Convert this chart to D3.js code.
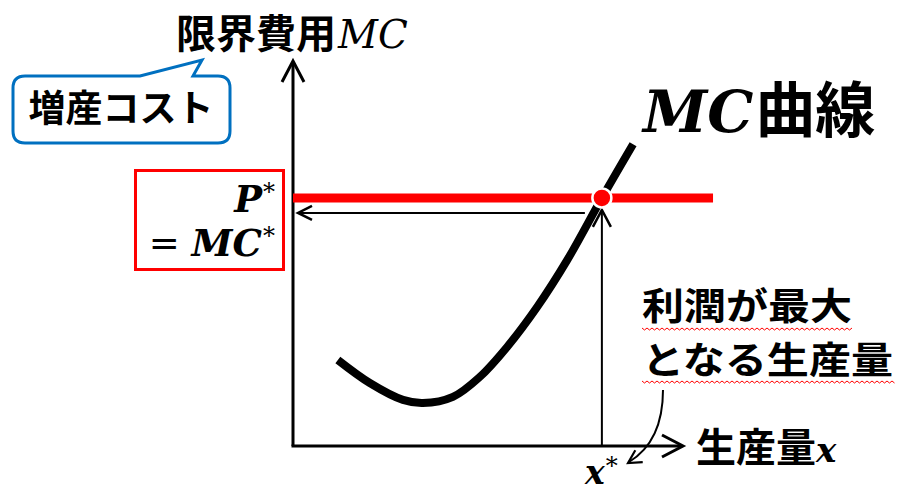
<!DOCTYPE html>
<html><head><meta charset="utf-8">
<script src="https://cdn.jsdelivr.net/npm/d3@7"></script>
<style>
html,body{margin:0;padding:0;background:#fff;}
svg{display:block;}
</style></head>
<body>
<script>
// ---- data (diagram units: quantity 0..100, cost 0..100) ----
const mcQuantity = [11.5, 19.7, 28.2, 33.3, 41.0, 47.9, 54.9, 62.6, 70.3, 79.2, 87.2];
const mcCost     = [22.4, 16.4, 12.0, 11.2, 12.8, 18.0, 25.8, 36.2, 48.4, 64.6, 78.6];
const optimumQuantity = [79.2];   // x*
const optimumPrice    = [64.6];   // P* = MC*
const priceLineExtent = [0, 107.7];
const axisLabels = ["限界費用", "生産量"];
const curveLabel = ["曲線"];
const noteLines = ["利潤が最大", "となる生産量"];
const calloutText = ["増産コスト"];

const W = 899, H = 492;
const svg = d3.select("body").append("svg").attr("width", W).attr("height", H);
svg.append("rect").attr("width", W).attr("height", H).attr("fill", "#fff");

const x = d3.scaleLinear().domain([0, 100]).range([293, 683]);
const y = d3.scaleLinear().domain([0, 100]).range([446, 62]);

const CJK = "'Noto Sans CJK JP', sans-serif";
const MATH = "'DejaVu Serif', 'Liberation Serif', serif";
const RED = "#ff0000", BLUE = "#0070c0";

function chevron(g, tx, ty, angleDeg, len, half, sw) {
  const a = angleDeg * Math.PI / 180;
  const ux = Math.cos(a), uy = Math.sin(a);
  const px = -uy, py = ux;
  const bx = tx - ux * len, by = ty - uy * len;
  g.append("path")
    .attr("d", `M${bx + px*half},${by + py*half}L${tx},${ty}L${bx - px*half},${by - py*half}`)
    .attr("fill", "none").attr("stroke", "#000").attr("stroke-width", sw)
    .attr("stroke-linejoin", "miter").attr("stroke-linecap", "butt");
}

// ---- axes ----
const axes = svg.append("g");
axes.append("path")
  .attr("d", `M${x(0)},${y(0)}L${x(0)},${y(100)+1}`)
  .attr("stroke", "#000").attr("stroke-width", 3).attr("fill", "none");
axes.append("path")
  .attr("d", `M${x(0)-1.5},${y(0)}L${x(100)-1},${y(0)}`)
  .attr("stroke", "#000").attr("stroke-width", 3).attr("fill", "none");
chevron(axes, x(0), y(100)-1, -90, 21, 11, 3);
chevron(axes, x(100), y(0), 0, 21, 11, 3);

// ---- price line P* ----
svg.append("line")
  .attr("x1", x(priceLineExtent[0])).attr("x2", x(priceLineExtent[1]))
  .attr("y1", y(optimumPrice[0])).attr("y2", y(optimumPrice[0]))
  .attr("stroke", RED).attr("stroke-width", 9);

// ---- guide arrows ----
const guides = svg.append("g");
guides.append("line")
  .attr("x1", x(optimumQuantity[0])).attr("x2", x(optimumQuantity[0]))
  .attr("y1", y(0)).attr("y2", y(optimumPrice[0]) + 13)
  .attr("stroke", "#000").attr("stroke-width", 2);
chevron(guides, x(optimumQuantity[0]), y(optimumPrice[0]) + 12, -90, 17, 9, 2.5);
guides.append("line")
  .attr("x1", x(optimumQuantity[0]) - 17).attr("x2", x(0) + 6)
  .attr("y1", y(optimumPrice[0]) + 15).attr("y2", y(optimumPrice[0]) + 15)
  .attr("stroke", "#000").attr("stroke-width", 2);
chevron(guides, x(0) + 5, y(optimumPrice[0]) + 15, 180, 14, 7, 2.5);

// ---- MC curve ----
const pts = mcQuantity.map((q, i) => [q, mcCost[i]]);
svg.append("path")
  .datum(pts)
  .attr("d", d3.line().x(d => x(d[0])).y(d => y(d[1])).curve(d3.curveCatmullRom.alpha(0.5)))
  .attr("fill", "none").attr("stroke", "#000").attr("stroke-width", 8);

// ---- equilibrium dot ----
svg.append("circle")
  .attr("cx", x(optimumQuantity[0])).attr("cy", y(optimumPrice[0])).attr("r", 9.5)
  .attr("fill", RED).attr("stroke", "#fff").attr("stroke-width", 2.5);

// ---- title label ----
const t = svg.append("text").attr("x", 176).attr("y", 48);
t.append("tspan").attr("font-family", CJK).attr("font-weight", "bold").attr("font-size", 40).text(axisLabels[0]);
t.append("tspan").attr("font-family", MATH).attr("font-style", "italic").attr("font-size", 39).attr("dx", 2).text("MC");

// ---- callout ----
svg.append("path")
  .attr("d", "M25,76L140,76L202,60L193,76L218,76Q230,76 230,88L230,131Q230,143 218,143L25,143Q13,143 13,131L13,88Q13,76 25,76Z")
  .attr("fill", "#fff").attr("stroke", BLUE).attr("stroke-width", 3);
svg.append("text").attr("x", 121).attr("y", 122).attr("text-anchor", "middle")
  .attr("font-family", CJK).attr("font-weight", "bold").attr("font-size", 37)
  .text(calloutText[0]);

// ---- red box P* = MC* ----
svg.append("rect").attr("x", 135.5).attr("y", 170.5).attr("width", 148).attr("height", 99)
  .attr("fill", "none").attr("stroke", RED).attr("stroke-width", 3);
const p1 = svg.append("text").attr("x", 275).attr("y", 212).attr("text-anchor", "end")
  .attr("font-family", MATH).attr("font-weight", "bold").attr("font-style", "italic").attr("font-size", 37);
p1.append("tspan").text("P");
p1.append("tspan").attr("font-size", 24).attr("font-style", "normal").attr("font-weight", "normal").attr("dx", 1).attr("dy", -12).text("*");
const p2 = svg.append("text").attr("x", 275).attr("y", 256).attr("text-anchor", "end")
  .attr("font-family", MATH).attr("font-weight", "bold").attr("font-style", "italic").attr("font-size", 37);
p2.append("tspan").attr("font-style", "normal").attr("font-weight", "normal").text("= ");
p2.append("tspan").text("MC");
p2.append("tspan").attr("font-size", 24).attr("font-style", "normal").attr("font-weight", "normal").attr("dx", 1).attr("dy", -12).text("*");

// ---- MC曲線 ----
const big = svg.append("text").attr("x", 643).attr("y", 132);
big.append("tspan").attr("font-family", MATH).attr("font-weight", "bold").attr("font-style", "italic").attr("font-size", 58).text("MC");
big.append("tspan").attr("font-family", CJK).attr("font-weight", "bold").attr("font-size", 60).attr("dx", 2).text(curveLabel[0]);

// ---- note text with squiggles ----
const noteY = [320, 374];
const noteW = [210, 251];
noteLines.forEach((s, i) => {
  svg.append("text").attr("x", 642).attr("y", noteY[i])
    .attr("font-family", CJK).attr("font-weight", "bold").attr("font-size", 37)
    .attr("textLength", noteW[i]).attr("lengthAdjust", "spacingAndGlyphs")
    .text(s);
  const sy = noteY[i] + 8 + (i === 1 ? -1 : 0);
  let d = `M642,${sy}`;
  for (let xx = 642, k = 0; xx < 642 + noteW[i]; xx += 2.5, k++) {
    d += `L${xx + 2.5},${sy + (k % 2 === 0 ? 2 : 0)}`;
  }
  svg.append("path").attr("d", d).attr("fill", "none").attr("stroke", RED).attr("stroke-width", 1);
});

// ---- curved pointer arrow ----
svg.append("path").attr("d", "M663,390C663,425 652,448 629,462")
  .attr("fill", "none").attr("stroke", "#000").attr("stroke-width", 2);
chevron(svg, 628, 463, 148, 13, 7, 2.2);

// ---- x* and x-axis label ----
const xs = svg.append("text").attr("x", 585).attr("y", 484)
  .attr("font-family", MATH).attr("font-weight", "bold").attr("font-style", "italic").attr("font-size", 33);
xs.append("tspan").text("x");
xs.append("tspan").attr("font-size", 24).attr("font-style", "normal").attr("font-weight", "normal").attr("dx", 1).attr("dy", -10).text("*");

const xl = svg.append("text").attr("x", 696).attr("y", 462);
xl.append("tspan").attr("font-family", CJK).attr("font-weight", "bold").attr("font-size", 40).text(axisLabels[1]);
xl.append("tspan").attr("font-family", MATH).attr("font-weight", "bold").attr("font-style", "italic").attr("font-size", 34).text("x");
</script>
</body></html>
